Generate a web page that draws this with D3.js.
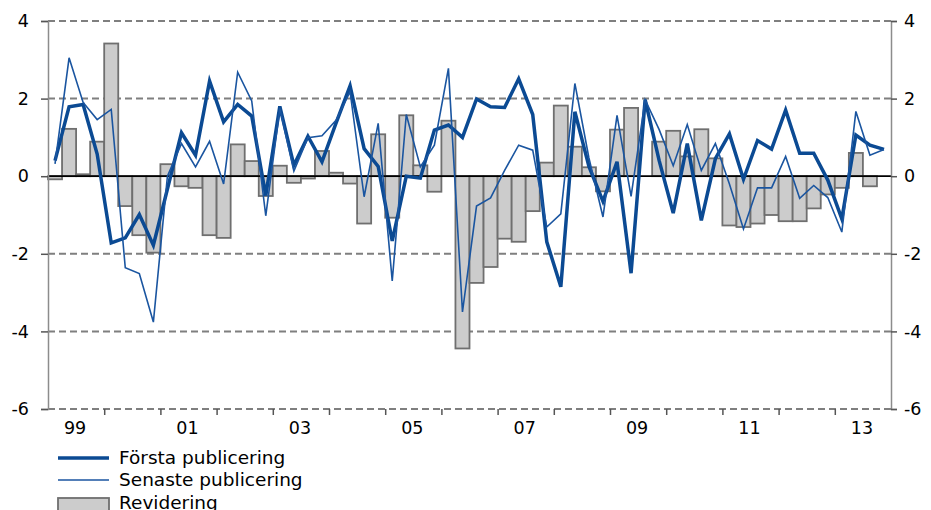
<!DOCTYPE html>
<html>
<head>
<meta charset="utf-8">
<script src="https://cdn.jsdelivr.net/npm/d3@7"></script>
<style>
  body { margin: 0; background: #fff; }
  text { font-family: "DejaVu Sans", Verdana, sans-serif; fill: #000; }
</style>
</head>
<body>
<script>
// Opgave: Tegn diagrammet med første og seneste publicering plus revidering (kvartalsdata 1999-2013) med D3 og SVG.

const aar = ["1999", "2000", "2001", "2002", "2003", "2004", "2005", "2006",
             "2007", "2008", "2009", "2010", "2011", "2012", "2013"];
const kvartaler = [];
aar.forEach(a => ["K1", "K2", "K3", "K4"].forEach(k => kvartaler.push(a + k)));

const forstaPublicering = [
  0.40, 1.79, 1.85, 0.57, -1.72, -1.59, -0.99, -1.78,
  -0.33, 1.12, 0.54, 2.45, 1.40, 1.85, 1.55, -0.50,
  1.80, 0.28, 1.03, 0.37, 1.37, 2.33, 0.71, 0.25,
  -1.67, 0.00, -0.05, 1.19, 1.32, 1.00, 1.99, 1.79,
  1.77, 2.51, 1.59, -1.69, -2.85, 1.66, 0.25, -0.65,
  0.37, -2.50, 1.97, 0.40, -0.95, 0.84, -1.14, 0.45,
  1.09, -0.08, 0.92, 0.70, 1.70, 0.59, 0.59, -0.10,
  -1.10, 1.06, 0.80, 0.69
];

const senastePublicering = [
  0.32, 3.05, 1.90, 1.46, 1.72, -2.36, -2.51, -3.76,
  0.00, 0.84, 0.24, 0.90, -0.20, 2.68, 1.94, -1.02,
  1.75, 0.13, 0.99, 1.04, 1.44, 2.18, -0.53, 1.36,
  -2.70, 1.59, 0.24, 0.80, 2.78, -3.50, -0.77, -0.56,
  0.15, 0.80, 0.67, -1.31, -0.97, 2.39, 0.47, -1.05,
  1.57, -0.52, 1.97, 1.20, 0.27, 1.33, 0.15, 0.84,
  -0.20, -1.36, -0.30, -0.30, 0.51, -0.57, -0.24, -0.55,
  -1.44, 1.67, 0.54, 0.69
];

const revidering = [
  -0.08, 1.22, 0.05, 0.89, 3.42, -0.77, -1.52, -1.97,
  0.31, -0.26, -0.30, -1.52, -1.59, 0.82, 0.39, -0.51,
  0.27, -0.17, -0.06, 0.65, 0.09, -0.19, -1.22, 1.08,
  -1.07, 1.57, 0.28, -0.40, 1.43, -4.44, -2.75, -2.34,
  -1.61, -1.69, -0.90, 0.35, 1.82, 0.76, 0.23, -0.39,
  1.20, 1.76, 0.00, 0.89, 1.17, 0.51, 1.21, 0.46,
  -1.27, -1.31, -1.22, -1.00, -1.16, -1.16, -0.83, -0.47,
  -0.30, 0.60, -0.26, null
];

const xEtiketter = ["99", "01", "03", "05", "07", "09", "11", "13"];
const yTicks = [-6, -4, -2, 0, 2, 4];

function opretDiagram() {
  const bredde = 931;
  const hoejde = 510;
  const venstre = 48;
  const hoejre = 891;
  const top = 21;
  const bund = 409;

  const svg = d3.select("body").append("svg")
    .attr("width", bredde)
    .attr("height", hoejde);

  const x = d3.scaleBand().domain(kvartaler).range([venstre, hoejre]).padding(0);
  const tid = d3.scaleLinear().domain([1999, 2014]).range([venstre, hoejre]);
  const y = d3.scaleLinear().domain([-6, 4]).range([bund, top]);

  // vandrette hjælpelinjer (stiplede)
  svg.append("g")
    .selectAll("line")
    .data(yTicks.filter(d => d !== 0))
    .enter().append("line")
    .attr("x1", venstre)
    .attr("x2", hoejre)
    .attr("y1", d => y(d))
    .attr("y2", d => y(d))
    .attr("stroke", "#7f7f7f")
    .attr("stroke-width", 2)
    .attr("stroke-dasharray", "7,4");

  // søjler for revidering
  const soejleData = revidering
    .map((v, i) => ({ k: kvartaler[i], v: v }))
    .filter(d => d.v !== null);

  svg.append("g")
    .selectAll("rect")
    .data(soejleData)
    .enter().append("rect")
    .attr("x", d => x(d.k))
    .attr("width", x.bandwidth())
    .attr("y", d => y(Math.max(0, d.v)))
    .attr("height", d => Math.abs(y(d.v) - y(0)))
    .attr("fill", "#cccccc")
    .attr("stroke", "#6f6f6f")
    .attr("stroke-width", 1.8);

  // nul-linje
  svg.append("line")
    .attr("x1", venstre)
    .attr("x2", hoejre)
    .attr("y1", y(0))
    .attr("y2", y(0))
    .attr("stroke", "#000")
    .attr("stroke-width", 1.8);

  const linje = serie => d3.line()
    .x((d, i) => x(kvartaler[i]) + x.bandwidth() / 2)
    .y(d => y(d))(serie);

  svg.append("path")
    .attr("d", linje(forstaPublicering))
    .attr("fill", "none")
    .attr("stroke", "#0b4a93")
    .attr("stroke-width", 3.5);

  svg.append("path")
    .attr("d", linje(senastePublicering))
    .attr("fill", "none")
    .attr("stroke", "#1a55a0")
    .attr("stroke-width", 1.6);

  // y-akser på begge sider
  const venstreAkse = svg.append("g")
    .attr("transform", `translate(${venstre},0)`)
    .call(d3.axisLeft(y).tickValues(yTicks).tickSize(7).tickPadding(12).tickFormat(d3.format("d")));

  const hoejreAkse = svg.append("g")
    .attr("transform", `translate(${hoejre},0)`)
    .call(d3.axisRight(y).tickValues(yTicks).tickSize(6).tickPadding(7).tickFormat(d3.format("d")));

  [venstreAkse, hoejreAkse].forEach(akse => {
    akse.select(".domain").attr("stroke", "#8c8c8c").attr("stroke-width", 1.5);
    akse.selectAll(".tick line").attr("stroke", "#555").attr("stroke-width", 1.5);
    akse.selectAll(".tick text")
      .style("font-size", "17.5px")
      .style("font-family", "'DejaVu Sans', Verdana, sans-serif")
      .attr("fill", "#000")
      .text(d => d < 0 ? "-" + Math.abs(d) : d);
  });

  // x-akse: streger ved årsskift, etiketter midt i året
  const xAkse = svg.append("g")
    .attr("transform", `translate(0,${bund})`)
    .call(d3.axisBottom(tid).tickValues(d3.range(2000, 2014)).tickSize(6).tickFormat(""));
  xAkse.select(".domain").remove();
  xAkse.selectAll(".tick line").attr("stroke", "#555").attr("stroke-width", 1.5);

  svg.append("g")
    .selectAll("text")
    .data(xEtiketter)
    .enter().append("text")
    .attr("x", d => tid(+aar.find(a => a.slice(2) === d) + 0.5) - 1)
    .attr("y", 434)
    .attr("text-anchor", "middle")
    .style("font-size", "17.5px")
    .text(d => d);

  // forklaring
  const forklaring = svg.append("g");
  forklaring.append("line")
    .attr("x1", 58).attr("x2", 109).attr("y1", 458).attr("y2", 458)
    .attr("stroke", "#0b4a93").attr("stroke-width", 3.5);
  forklaring.append("line")
    .attr("x1", 58).attr("x2", 109).attr("y1", 480).attr("y2", 480)
    .attr("stroke", "#1a55a0").attr("stroke-width", 1.6);
  forklaring.append("rect")
    .attr("x", 58).attr("y", 498).attr("width", 51).attr("height", 14)
    .attr("fill", "#cccccc").attr("stroke", "#6f6f6f").attr("stroke-width", 1.8);

  const tekster = ["Första publicering", "Senaste publicering", "Revidering"];
  forklaring.selectAll("text")
    .data(tekster)
    .enter().append("text")
    .attr("x", 119)
    .attr("y", (d, i) => 464 + i * 22.3)
    .style("font-size", "18.5px")
    .text(d => d);
}

opretDiagram();
</script>
</body>
</html>
